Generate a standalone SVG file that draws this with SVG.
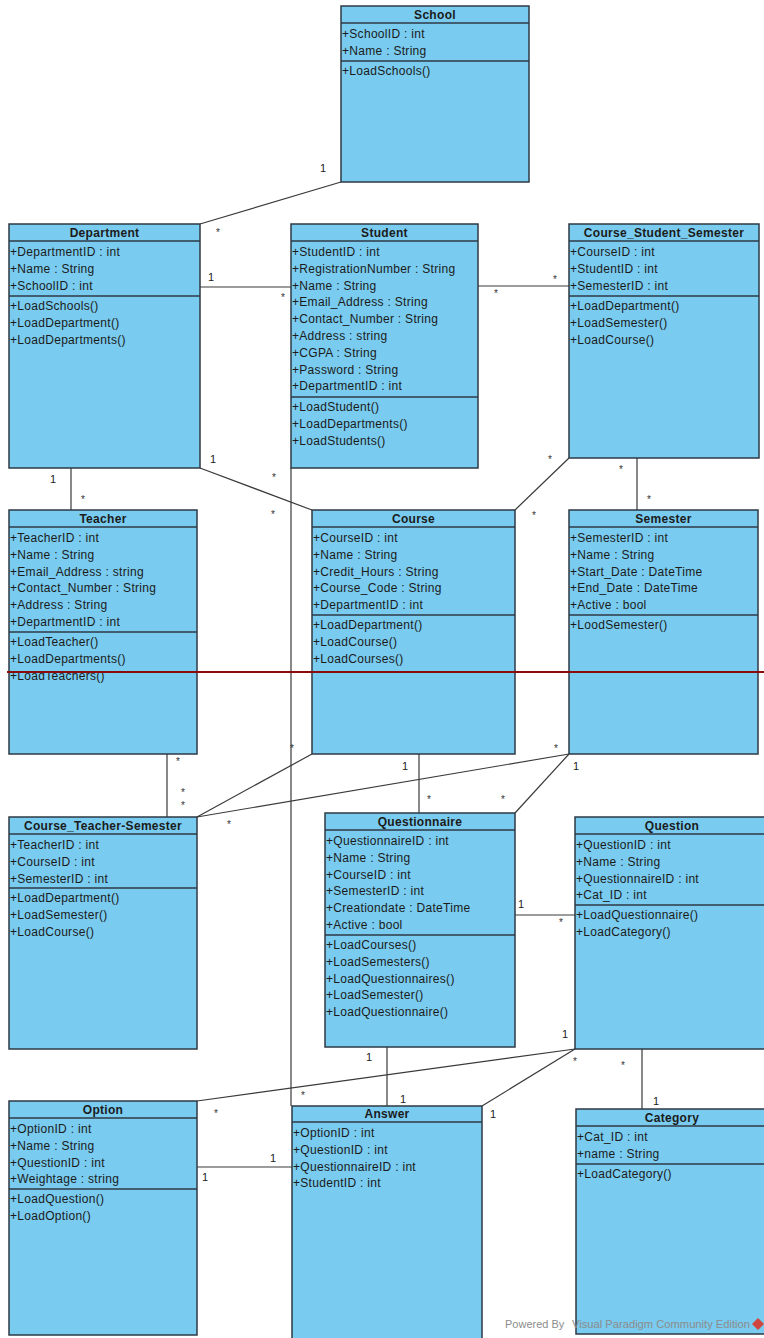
<svg xmlns="http://www.w3.org/2000/svg" width="764" height="1338" viewBox="0 0 764 1338">
<style>
.box{fill:#79CBEF;stroke:#2E3A44;stroke-width:1.5}
.sep{stroke:#2E3A44;stroke-width:1.5}
.t{font-family:"Liberation Sans",Arial,sans-serif;font-size:12px;fill:#1b1b1b;letter-spacing:0.3px}
.h{font-weight:bold;text-anchor:middle}
.conn line{stroke:#3a3a3a;stroke-width:1.2}
.m{font-family:"Liberation Sans",Arial,sans-serif;font-size:11px;fill:#1b1b1b}
.s{font-family:"Liberation Sans",Arial,sans-serif;font-size:10px;fill:#333}
.wm{font-family:"Liberation Sans",Arial,sans-serif;font-size:11px;fill:#8c8c8c}
</style>
<rect x="0" y="0" width="764" height="1338" fill="#ffffff"/>

<g id="connectors" class="conn">
<line x1="200" y1="224" x2="341" y2="182"/>
<line x1="200" y1="287" x2="291" y2="287"/>
<line x1="478" y1="286" x2="569" y2="286"/>
<line x1="71" y1="468" x2="71" y2="510"/>
<line x1="200" y1="468" x2="312" y2="510"/>
<line x1="291" y1="468" x2="291" y2="1106"/>
<line x1="569" y1="458" x2="515" y2="510"/>
<line x1="637" y1="458" x2="637" y2="510"/>
<line x1="167" y1="754" x2="167" y2="817"/>
<line x1="197" y1="817" x2="312" y2="754"/>
<line x1="197" y1="817" x2="569" y2="754"/>
<line x1="419" y1="754" x2="419" y2="813"/>
<line x1="569" y1="754" x2="515" y2="813"/>
<line x1="515" y1="915" x2="575" y2="915"/>
<line x1="387" y1="1047" x2="387" y2="1106"/>
<line x1="575" y1="1049" x2="197" y2="1101"/>
<line x1="575" y1="1049" x2="482" y2="1106"/>
<line x1="642" y1="1049" x2="642" y2="1109"/>
<line x1="197" y1="1167" x2="292" y2="1167"/>
<g id="multiplicities">
<text class="m" x="320" y="172">1</text>
<text class="s" x="216" y="236">*</text>
<text class="m" x="208" y="281">1</text>
<text class="s" x="281" y="301">*</text>
<text class="s" x="494" y="297">*</text>
<text class="s" x="553" y="283">*</text>
<text class="m" x="50" y="483">1</text>
<text class="s" x="81" y="503">*</text>
<text class="m" x="210" y="463">1</text>
<text class="s" x="272" y="481">*</text>
<text class="s" x="271" y="518">*</text>
<text class="s" x="290" y="752">*</text>
<text class="s" x="301" y="1099">*</text>
<text class="s" x="548" y="463">*</text>
<text class="s" x="532" y="519">*</text>
<text class="s" x="619" y="473">*</text>
<text class="s" x="647" y="503">*</text>
<text class="s" x="176" y="765">*</text>
<text class="s" x="181" y="796">*</text>
<text class="s" x="181" y="809">*</text>
<text class="s" x="227" y="828">*</text>
<text class="s" x="554" y="752">*</text>
<text class="m" x="402" y="770">1</text>
<text class="s" x="427" y="803">*</text>
<text class="m" x="573" y="770">1</text>
<text class="s" x="501" y="803">*</text>
<text class="m" x="518" y="908">1</text>
<text class="s" x="559" y="926">*</text>
<text class="m" x="366" y="1061">1</text>
<text class="m" x="400" y="1103">1</text>
<text class="m" x="562" y="1038">1</text>
<text class="s" x="214" y="1117">*</text>
<text class="s" x="573" y="1065">*</text>
<text class="m" x="490" y="1118">1</text>
<text class="s" x="621" y="1069">*</text>
<text class="m" x="653" y="1105">1</text>
<text class="m" x="202" y="1181">1</text>
<text class="m" x="270" y="1162">1</text>
</g>
</g>

<g id="School">
<rect class="box" x="341" y="6" width="188" height="176"/>
<line class="sep" x1="341" y1="23" x2="529" y2="23"/>
<line class="sep" x1="341" y1="61" x2="529" y2="61"/>
<text class="t h" x="435" y="19">School</text>
<text class="t" x="342" y="38">+SchoolID : int</text>
<text class="t" x="342" y="54.8">+Name : String</text>
<text class="t" x="342" y="75">+LoadSchools()</text>
</g>

<g id="Department">
<rect class="box" x="9" y="224" width="191" height="244"/>
<line class="sep" x1="9" y1="241" x2="200" y2="241"/>
<line class="sep" x1="9" y1="296" x2="200" y2="296"/>
<text class="t h" x="104.5" y="237">Department</text>
<text class="t" x="10" y="256">+DepartmentID : int</text>
<text class="t" x="10" y="272.8">+Name : String</text>
<text class="t" x="10" y="289.6">+SchoolID : int</text>
<text class="t" x="10" y="310">+LoadSchools()</text>
<text class="t" x="10" y="326.8">+LoadDepartment()</text>
<text class="t" x="10" y="343.6">+LoadDepartments()</text>
</g>

<g id="Student">
<rect class="box" x="291" y="224" width="187" height="244"/>
<line class="sep" x1="291" y1="241" x2="478" y2="241"/>
<line class="sep" x1="291" y1="397" x2="478" y2="397"/>
<text class="t h" x="384.5" y="237">Student</text>
<text class="t" x="292" y="256">+StudentID : int</text>
<text class="t" x="292" y="272.8">+RegistrationNumber : String</text>
<text class="t" x="292" y="289.6">+Name : String</text>
<text class="t" x="292" y="306.4">+Email_Address : String</text>
<text class="t" x="292" y="323.2">+Contact_Number : String</text>
<text class="t" x="292" y="340">+Address : string</text>
<text class="t" x="292" y="356.8">+CGPA : String</text>
<text class="t" x="292" y="373.6">+Password : String</text>
<text class="t" x="292" y="390.4">+DepartmentID : int</text>
<text class="t" x="292" y="411">+LoadStudent()</text>
<text class="t" x="292" y="427.8">+LoadDepartments()</text>
<text class="t" x="292" y="444.6">+LoadStudents()</text>
</g>

<g id="Course_Student_Semester">
<rect class="box" x="569" y="224" width="190" height="234"/>
<line class="sep" x1="569" y1="241" x2="759" y2="241"/>
<line class="sep" x1="569" y1="296" x2="759" y2="296"/>
<text class="t h" x="664" y="237">Course_Student_Semester</text>
<text class="t" x="570" y="256">+CourseID : int</text>
<text class="t" x="570" y="272.8">+StudentID : int</text>
<text class="t" x="570" y="289.6">+SemesterID : int</text>
<text class="t" x="570" y="310">+LoadDepartment()</text>
<text class="t" x="570" y="326.8">+LoadSemester()</text>
<text class="t" x="570" y="343.6">+LoadCourse()</text>
</g>

<g id="Teacher">
<rect class="box" x="9" y="510" width="188" height="244"/>
<line class="sep" x1="9" y1="527" x2="197" y2="527"/>
<line class="sep" x1="9" y1="632" x2="197" y2="632"/>
<text class="t h" x="103" y="523">Teacher</text>
<text class="t" x="10" y="542">+TeacherID : int</text>
<text class="t" x="10" y="558.8">+Name : String</text>
<text class="t" x="10" y="575.6">+Email_Address : string</text>
<text class="t" x="10" y="592.4">+Contact_Number : String</text>
<text class="t" x="10" y="609.2">+Address : String</text>
<text class="t" x="10" y="626">+DepartmentID : int</text>
<text class="t" x="10" y="646">+LoadTeacher()</text>
<text class="t" x="10" y="662.8">+LoadDepartments()</text>
<text class="t" x="10" y="679.6">+LoadTeachers()</text>
</g>

<g id="Course">
<rect class="box" x="312" y="510" width="203" height="244"/>
<line class="sep" x1="312" y1="527" x2="515" y2="527"/>
<line class="sep" x1="312" y1="615" x2="515" y2="615"/>
<text class="t h" x="413.5" y="523">Course</text>
<text class="t" x="313" y="542">+CourseID : int</text>
<text class="t" x="313" y="558.8">+Name : String</text>
<text class="t" x="313" y="575.6">+Credit_Hours : String</text>
<text class="t" x="313" y="592.4">+Course_Code : String</text>
<text class="t" x="313" y="609.2">+DepartmentID : int</text>
<text class="t" x="313" y="629">+LoadDepartment()</text>
<text class="t" x="313" y="645.8">+LoadCourse()</text>
<text class="t" x="313" y="662.6">+LoadCourses()</text>
</g>

<g id="Semester">
<rect class="box" x="569" y="510" width="189" height="244"/>
<line class="sep" x1="569" y1="527" x2="758" y2="527"/>
<line class="sep" x1="569" y1="615" x2="758" y2="615"/>
<text class="t h" x="663.5" y="523">Semester</text>
<text class="t" x="570" y="542">+SemesterID : int</text>
<text class="t" x="570" y="558.8">+Name : String</text>
<text class="t" x="570" y="575.6">+Start_Date : DateTime</text>
<text class="t" x="570" y="592.4">+End_Date : DateTime</text>
<text class="t" x="570" y="609.2">+Active : bool</text>
<text class="t" x="570" y="629">+LoodSemester()</text>
</g>

<g id="Course_Teacher-Semester">
<rect class="box" x="9" y="817" width="188" height="232"/>
<line class="sep" x1="9" y1="834" x2="197" y2="834"/>
<line class="sep" x1="9" y1="888" x2="197" y2="888"/>
<text class="t h" x="103" y="830">Course_Teacher-Semester</text>
<text class="t" x="10" y="849">+TeacherID : int</text>
<text class="t" x="10" y="865.8">+CourseID : int</text>
<text class="t" x="10" y="882.6">+SemesterID : int</text>
<text class="t" x="10" y="902">+LoadDepartment()</text>
<text class="t" x="10" y="918.8">+LoadSemester()</text>
<text class="t" x="10" y="935.6">+LoadCourse()</text>
</g>

<g id="Questionnaire">
<rect class="box" x="325" y="813" width="190" height="234"/>
<line class="sep" x1="325" y1="830" x2="515" y2="830"/>
<line class="sep" x1="325" y1="935" x2="515" y2="935"/>
<text class="t h" x="420" y="826">Questionnaire</text>
<text class="t" x="326" y="845">+QuestionnaireID : int</text>
<text class="t" x="326" y="861.8">+Name : String</text>
<text class="t" x="326" y="878.6">+CourseID : int</text>
<text class="t" x="326" y="895.4">+SemesterID : int</text>
<text class="t" x="326" y="912.2">+Creationdate : DateTime</text>
<text class="t" x="326" y="929">+Active : bool</text>
<text class="t" x="326" y="949">+LoadCourses()</text>
<text class="t" x="326" y="965.8">+LoadSemesters()</text>
<text class="t" x="326" y="982.6">+LoadQuestionnaires()</text>
<text class="t" x="326" y="999.4">+LoadSemester()</text>
<text class="t" x="326" y="1016.2">+LoadQuestionnaire()</text>
</g>

<g id="Question">
<rect class="box" x="575" y="817" width="194" height="232"/>
<line class="sep" x1="575" y1="834" x2="769" y2="834"/>
<line class="sep" x1="575" y1="905" x2="769" y2="905"/>
<text class="t h" x="672" y="830">Question</text>
<text class="t" x="576" y="849">+QuestionID : int</text>
<text class="t" x="576" y="865.8">+Name : String</text>
<text class="t" x="576" y="882.6">+QuestionnaireID : int</text>
<text class="t" x="576" y="899.4">+Cat_ID : int</text>
<text class="t" x="576" y="919">+LoadQuestionnaire()</text>
<text class="t" x="576" y="935.8">+LoadCategory()</text>
</g>

<g id="Option">
<rect class="box" x="9" y="1101" width="188" height="234"/>
<line class="sep" x1="9" y1="1118" x2="197" y2="1118"/>
<line class="sep" x1="9" y1="1189" x2="197" y2="1189"/>
<text class="t h" x="103" y="1114">Option</text>
<text class="t" x="10" y="1133">+OptionID : int</text>
<text class="t" x="10" y="1149.8">+Name : String</text>
<text class="t" x="10" y="1166.6">+QuestionID : int</text>
<text class="t" x="10" y="1183.4">+Weightage : string</text>
<text class="t" x="10" y="1203">+LoadQuestion()</text>
<text class="t" x="10" y="1219.8">+LoadOption()</text>
</g>

<g id="Answer">
<rect class="box" x="292" y="1106" width="190" height="240"/>
<line class="sep" x1="292" y1="1122" x2="482" y2="1122"/>
<text class="t h" x="387" y="1118">Answer</text>
<text class="t" x="293" y="1137">+OptionID : int</text>
<text class="t" x="293" y="1153.8">+QuestionID : int</text>
<text class="t" x="293" y="1170.6">+QuestionnaireID : int</text>
<text class="t" x="293" y="1187.4">+StudentID : int</text>
</g>

<g id="Category">
<rect class="box" x="576" y="1109" width="194" height="225"/>
<line class="sep" x1="576" y1="1126" x2="770" y2="1126"/>
<line class="sep" x1="576" y1="1164" x2="770" y2="1164"/>
<text class="t h" x="672" y="1122">Category</text>
<text class="t" x="577" y="1141">+Cat_ID : int</text>
<text class="t" x="577" y="1157.8">+name : String</text>
<text class="t" x="577" y="1178">+LoadCategory()</text>
</g>

<line x1="7" y1="672" x2="764" y2="672" stroke="#8B0A0A" stroke-width="2"/>

<g id="watermark">
<text class="wm" x="505" y="1328">Powered By</text>
<text class="wm" x="572" y="1328" textLength="178" lengthAdjust="spacingAndGlyphs">Visual Paradigm Community Edition</text>
<polygon points="758,1318 764,1324 758,1330 752,1324" fill="#D0453D"/>
</g>
</svg>
